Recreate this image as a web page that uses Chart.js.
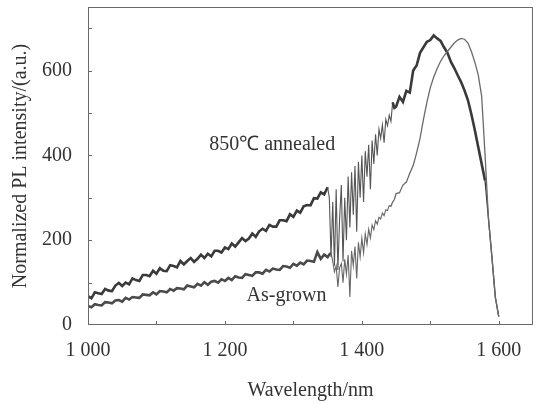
<!DOCTYPE html>
<html><head><meta charset="utf-8">
<style>html,body{margin:0;padding:0;background:#fff}</style>
<script src="https://cdn.jsdelivr.net/npm/chart.js@4/dist/chart.umd.min.js"></script>
</head><body>
<canvas id="c" width="542" height="403"></canvas>
<script>
// ---- data ----
const wavelengths = [
1000,1005,1010,1015,1020,1025,1030,1035,1040,1045,1050,1055,1060,1065,1070,1075,1080,1085,1090,1095,
1100,1105,1110,1115,1120,1125,1130,1135,1140,1145,1150,1155,1160,1165,1170,1175,1180,1185,1190,1195,
1200,1205,1210,1215,1220,1225,1230,1235,1240,1245,1250,1255,1260,1265,1270,1275,1280,1285,1290,1295,
1300,1305,1310,1315,1320,1325,1330,1335,1340,1345,
1350,1352.5,1355,1357.5,1360,1362.5,1365,1367.5,1370,1372.5,1375,1377.5,1380,1382.5,1385,1387.5,1390,1392.5,1395,1397.5,
1400,1402.5,1405,1407.5,1410,1412.5,1415,1417.5,1420,1422.5,1425,1427.5,1430,1432.5,1435,1437.5,1440,1442.5,1445,1447.5,
1450,1455,1460,1465,1470,1475,1480,1485,1490,1495,
1500,1505,1510,1515,1520,1525,1530,1535,1540,1545,1550,1555,1560,1565,1570,1575,1580,1585,1590,1595,1600];

const annealed = [
68,63,77,75,73,85,81,80,93,99,92,100,96,110,106,104,118,118,115,128,
121,134,128,127,141,139,136,151,143,151,158,149,156,166,158,168,162,175,175,171,
183,179,192,185,195,205,198,204,216,208,221,227,222,236,232,232,247,247,245,261,
255,270,265,280,283,282,299,298,313,308,
325,300,160,290,140,320,130,250,330,150,300,200,350,230,360,260,375,220,385,300,
400,290,410,350,425,320,435,380,450,400,462,440,472,430,485,470,495,480,525,512,
515,538,526,552,548,600,612,642,655,668,
672,683,676,670,655,642,621,606,589,573,553,530,497,460,420,380,340,250,160,65,20];

const asGrown = [
45,42,49,47,46,54,53,51,58,59,55,64,60,66,65,64,72,71,70,77,
72,80,79,77,85,81,87,86,84,93,91,89,97,93,101,95,102,104,100,108,
104,111,106,115,112,111,120,118,116,124,124,121,130,126,133,131,130,139,138,135,
144,140,147,143,152,151,149,172,156,166,
160,166,170,150,125,140,90,135,145,100,155,120,165,66,175,140,185,110,195,160,
205,170,215,190,226,205,236,225,246,238,254,250,264,258,272,270,282,280,290,296,
310,312,330,337,358,376,406,440,485,525,
560,585,605,622,635,645,655,665,672,676,674,665,645,620,590,540,400,250,160,65,20];

const xTickValues = [1000, 1100, 1200, 1300, 1400, 1500, 1600];
const xLabelValues = [1000, 1200, 1400, 1600];
const yTickValues = [0, 100, 200, 300, 400, 500, 600, 700];
const yLabelValues = [0, 200, 400, 600];
const seriesNames = ['850℃ annealed', 'As-grown'];
// ---- end data ----

const FONT = '"Liberation Serif", "Times New Roman", serif';
const TXT = '#333';

const notes = [
  {text: seriesNames[0], x: 1269, y: 424},
  {text: seriesNames[1], x: 1290, y: 68}
];

function fmtThousands(v){
  const s = String(v);
  return s.length > 3 ? s.slice(0, s.length-3) + ' ' + s.slice(-3) : s;
}

const decor = {
  id: 'decor',
  afterDraw(chart){
    const ctx = chart.ctx, ca = chart.chartArea;
    const xs = chart.scales.x, ys = chart.scales.y;
    ctx.save();
    ctx.strokeStyle = '#6a6a6a';
    ctx.lineWidth = 1;
    ctx.strokeRect(ca.left + 0.5, ca.top + 0.5, ca.right - ca.left - 1, ca.bottom - ca.top - 1);
    ctx.beginPath();
    xs.ticks.forEach(t => {
      if (t.value <= xs.min || t.value >= xs.max) return;
      const px = Math.round(xs.getPixelForValue(t.value)) + 0.5;
      ctx.moveTo(px, ca.bottom); ctx.lineTo(px, ca.bottom - 4);
    });
    ys.ticks.forEach(t => {
      if (t.value <= ys.min || t.value >= ys.max) return;
      const py = Math.round(ys.getPixelForValue(t.value)) + 0.5;
      ctx.moveTo(ca.left, py); ctx.lineTo(ca.left + 4, py);
    });
    ctx.stroke();
    ctx.fillStyle = TXT;
    ctx.font = '20px ' + FONT;
    ctx.textAlign = 'center';
    ctx.textBaseline = 'middle';
    notes.forEach(n => {
      ctx.fillText(n.text, xs.getPixelForValue(n.x), ys.getPixelForValue(n.y));
    });
    ctx.restore();
  }
};

function noPad(s){ s.paddingTop = 0; s.paddingBottom = 0; s.paddingLeft = 0; s.paddingRight = 0; }

new Chart(document.getElementById('c'), {
  type: 'line',
  data: {
    datasets: [
      {
        label: seriesNames[1],
        data: wavelengths.map((w, i) => ({x: w, y: asGrown[i]})),
        borderColor: '#555',
        borderWidth: 1.3,
        pointRadius: 0,
        tension: 0,
        segment: {
          borderWidth: c => c.p0.parsed.x < 1355 ? 2.6 : (c.p0.parsed.x < 1440 ? 1.1 : 1.3),
          borderColor: c => c.p0.parsed.x < 1355 ? '#4a4a4a' : (c.p0.parsed.x < 1440 ? '#666' : '#6a6a6a')
        }
      },
      {
        label: seriesNames[0],
        data: wavelengths.map((w, i) => ({x: w, y: annealed[i]})),
        borderColor: '#3a3a3a',
        borderWidth: 2.6,
        pointRadius: 0,
        tension: 0,
        segment: {
          borderWidth: c => (c.p0.parsed.x >= 1350 && c.p0.parsed.x < 1445) ? 1.1 : (c.p0.parsed.x >= 1580 ? 1.3 : 2.6),
          borderColor: c => (c.p0.parsed.x >= 1350 && c.p0.parsed.x < 1445) ? '#555' : '#3a3a3a'
        }
      }
    ]
  },
  options: {
    responsive: false,
    animation: false,
    layout: {padding: {top: 7, right: 9, left: 0, bottom: 0}},
    plugins: {legend: {display: false}, tooltip: {enabled: false}},
    scales: {
      x: {
        type: 'linear', min: 1000, max: 1650,
        grid: {display: false, drawTicks: false},
        border: {display: false},
        afterBuildTicks: s => { s.ticks = xTickValues.map(v => ({value: v})); },
        ticks: {
          autoSkip: false, maxRotation: 0, padding: 14,
          color: TXT, font: {family: FONT, size: 20},
          callback: v => xLabelValues.includes(v) ? fmtThousands(v) : ''
        },
        title: {display: true, text: 'Wavelength/nm', color: TXT,
                font: {family: FONT, size: 20}, padding: {top: 0, bottom: 0}},
        afterFit: s => { s.height = 78; noPad(s); }
      },
      y: {
        min: 0, max: 750,
        grid: {display: false, drawTicks: false},
        border: {display: false},
        afterBuildTicks: s => { s.ticks = yTickValues.map(v => ({value: v})); },
        ticks: {
          autoSkip: false, padding: 16,
          color: TXT, font: {family: FONT, size: 20},
          callback: v => yLabelValues.includes(v) ? String(v) : ''
        },
        title: {display: true, text: 'Normalized PL intensity/(a.u.)', color: TXT,
                font: {family: FONT, size: 20}, padding: {top: 9, bottom: 0}},
        afterFit: s => { s.width = 88; noPad(s); }
      }
    }
  },
  plugins: [decor]
});
</script>
</body></html>
